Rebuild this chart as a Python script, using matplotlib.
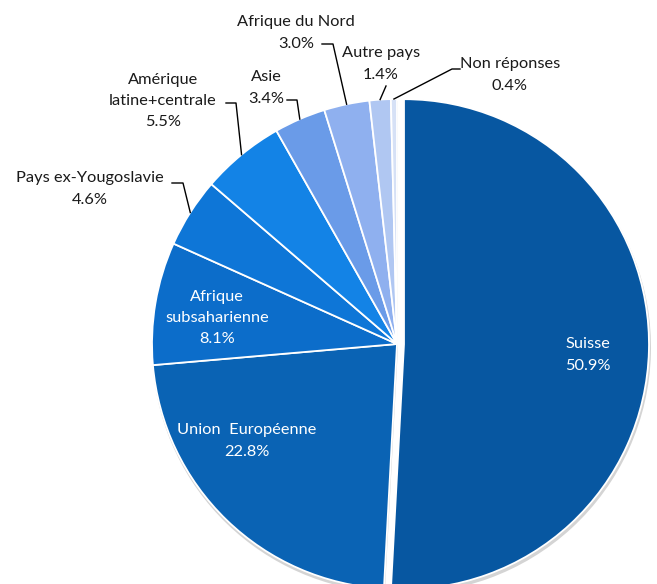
import numpy as np
import matplotlib.pyplot as plt

# parts of the population by origin (%)
labels = ['Suisse', 'Union  Européenne', 'Afrique\nsubsaharienne', 'Pays ex-Yougoslavie',
          'Amérique\nlatine+centrale', 'Asie', 'Afrique du Nord', 'Autre pays', 'Non réponses']
values = [50.9, 22.8, 8.1, 4.6, 5.5, 3.4, 3.0, 1.4, 0.4]
colors = ['#0757a1', '#0a63b4', '#0c6dca', '#0e76d7', '#1383e6',
          '#6a9be8', '#8fb0ef', '#b0c7f2', '#d6e1f6']

W, H = 657, 584
cx, cy, R = 397, H - 344, 245

# label layout (pixel coords, y from top); inside labels have no leader
inside = {0: (588, 355), 1: (247, 441), 2: (217, 318)}
outside = {
    3: ((90, 189), [(172, 183), (183, 183)]),
    4: ((163, 101), [(226, 103), (236, 103)]),
    5: ((266, 88), [(287, 100), (297, 100)]),
    6: ((296, 33), [(322, 44), (333, 44)]),
    7: ((381, 64), [(386, 86)]),
    8: ((510, 75), [(460, 69), (452, 69)]),
}

fig = plt.figure(figsize=(W / 100, H / 100), dpi=100)
ax = fig.add_axes([0, 0, 1, 1])

# pie explode is in data units here (pixels)
explode = [7] + [0] * (len(values) - 1)

# soft shadow
ax.pie(values, colors=['#d4d4d4'] * len(values), startangle=90, counterclock=False,
       center=(cx + 1, cy - 3), radius=R + 1, explode=explode,
       wedgeprops=dict(linewidth=0), frame=True)
wedges, _ = ax.pie(values, colors=colors, startangle=90, counterclock=False,
                   center=(cx, cy), radius=R, explode=explode,
                   wedgeprops=dict(edgecolor='white', linewidth=1.3), frame=True)
ax.set_xlim(0, W)
ax.set_ylim(0, H)
ax.set_aspect('equal')
ax.axis('off')

font = 'Lato'
fs = 11.8
for i, w in enumerate(wedges):
    txt = f'{labels[i]}\n{values[i]:.1f}%'
    if i in inside:
        x, y = inside[i]
        ax.text(x, H - y, txt, color='white', ha='center', va='center',
                fontsize=fs, family=font, linespacing=1.68)
    else:
        (x, y), pts = outside[i]
        ax.text(x, H - y, txt, color='#1a1a1a', ha='center', va='center',
                fontsize=fs, family=font, linespacing=1.68)
        mid = np.deg2rad((w.theta1 + w.theta2) / 2)
        ex = cx + R * np.cos(mid)
        ey = cy + R * np.sin(mid)
        xs = [p[0] for p in pts] + [ex]
        ys = [H - p[1] for p in pts] + [ey]
        ax.plot(xs, ys, color='black', linewidth=1)

fig.savefig('out.png', dpi=100)
